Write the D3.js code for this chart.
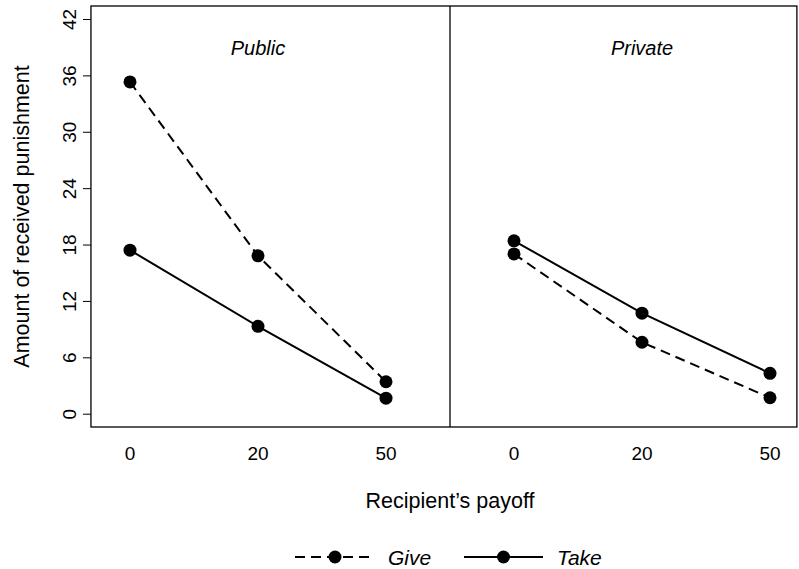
<!DOCTYPE html>
<html>
<head>
<meta charset="utf-8">
<script src="https://cdn.jsdelivr.net/npm/d3@7"></script>
<style>
  body { margin: 0; background: #fff; }
  svg text { font-family: "Liberation Sans", Arial, sans-serif; fill: #000; }
</style>
</head>
<body>
<svg id="chart" width="799" height="569"></svg>
<script>
// ---- Data ----
const panels = ["Public", "Private"];
const payoffs = ["0", "20", "50"];
const yTicks = [0, 6, 12, 18, 24, 30, 36, 42];
const giveValues = {
  Public:  [35.3, 16.8, 3.4],
  Private: [17.0, 7.6, 1.7]
};
const takeValues = {
  Public:  [17.4, 9.3, 1.65],
  Private: [18.4, 10.7, 4.3]
};
const seriesNames = ["Give", "Take"];

(function draw() {
  const svg = d3.select("#chart");
  const FS = 19, FT = 21.5, FP = 20, FL = 21;

  // positions indexed 0..5 across both panels
  const x = d3.scaleLinear().domain([0, 5]).range([130, 770]);
  const y = d3.scaleLinear().domain([0, 42]).range([413.7, 19]);

  const boxL = x(-0.305), boxR = x(5.21), boxT = 6, boxB = 427;
  const divider = x(2.5);

  const idx = (p, i) => panels.indexOf(p) * payoffs.length + i;

  // Box
  svg.append("rect")
    .attr("x", boxL).attr("y", boxT)
    .attr("width", boxR - boxL).attr("height", boxB - boxT)
    .attr("fill", "none").attr("stroke", "#000").attr("stroke-width", 1.3);
  svg.append("line")
    .attr("x1", divider).attr("x2", divider)
    .attr("y1", boxT).attr("y2", boxB)
    .attr("stroke", "#000").attr("stroke-width", 1.3);

  // Y axis
  const yAxis = d3.axisLeft(y).tickValues(yTicks).tickSize(8).tickPadding(0).tickFormat(d3.format("d"));
  const yg = svg.append("g").attr("transform", `translate(${boxL},0)`).call(yAxis);
  yg.select(".domain").remove();
  yg.selectAll(".tick line").attr("stroke", "#000").attr("stroke-width", 1);
  yg.selectAll(".tick text")
    .attr("x", 0).attr("dy", null)
    .attr("transform", "translate(-21,0) rotate(-90)")
    .attr("text-anchor", "middle")
    .attr("dominant-baseline", "central")
    .style("font-size", FS + "px")
    .style("font-family", '"Liberation Sans", Arial, sans-serif');

  // X tick labels (no tick marks)
  const xLabels = [];
  panels.forEach(p => payoffs.forEach((c, i) => xLabels.push({ p, c, i })));
  svg.append("g").selectAll("text").data(xLabels).join("text")
    .attr("x", d => x(idx(d.p, d.i)))
    .attr("y", 453)
    .attr("text-anchor", "middle")
    .attr("dominant-baseline", "central")
    .style("font-size", FS + "px")
    .text(d => d.c);

  // Axis titles
  svg.append("text")
    .attr("transform", `translate(22,${(boxT + boxB) / 2}) rotate(-90)`)
    .attr("text-anchor", "middle")
    .attr("dominant-baseline", "central")
    .style("font-size", FT + "px")
    .text("Amount of received punishment");
  svg.append("text")
    .attr("x", divider).attr("y", 501)
    .attr("text-anchor", "middle")
    .attr("dominant-baseline", "central")
    .style("font-size", FT + "px")
    .text("Recipient\u2019s payoff");

  // Panel labels
  panels.forEach((p, pi) => {
    svg.append("text")
      .attr("x", x(pi * 3 + 1)).attr("y", 48)
      .attr("text-anchor", "middle")
      .attr("dominant-baseline", "central")
      .style("font-size", FP + "px")
      .style("font-style", "italic")
      .text(p);
  });

  // Series
  const line = d3.line().x(d => x(d.ix)).y(d => y(d.v));
  const styles = { Give: "10,6", Take: null };
  const seriesData = { Give: giveValues, Take: takeValues };

  seriesNames.forEach(s => {
    panels.forEach(p => {
      const pts = seriesData[s][p].map((v, i) => ({ ix: idx(p, i), v }));
      svg.append("path")
        .datum(pts)
        .attr("d", line)
        .attr("fill", "none")
        .attr("stroke", "#000")
        .attr("stroke-width", 2)
        .attr("stroke-dasharray", styles[s]);
      svg.append("g").selectAll("circle").data(pts).join("circle")
        .attr("cx", d => x(d.ix)).attr("cy", d => y(d.v))
        .attr("r", 6.5).attr("fill", "#000");
    });
  });

  // Legend
  const legendItems = [
    { name: "Give", x1: 295, x2: 375, tx: 388 },
    { name: "Take", x1: 464, x2: 543, tx: 557 }
  ];
  const ly = 557;
  const lg = svg.append("g");
  legendItems.forEach(it => {
    lg.append("line")
      .attr("x1", it.x1).attr("x2", it.x2).attr("y1", ly).attr("y2", ly)
      .attr("stroke", "#000").attr("stroke-width", 2)
      .attr("stroke-dasharray", styles[it.name]);
    lg.append("circle").attr("cx", (it.x1 + it.x2) / 2).attr("cy", ly).attr("r", 6.5).attr("fill", "#000");
    lg.append("text")
      .attr("x", it.tx).attr("y", ly)
      .attr("dominant-baseline", "central")
      .style("font-size", FL + "px")
      .style("font-style", "italic")
      .text(it.name);
  });
})();
</script>
</body>
</html>
